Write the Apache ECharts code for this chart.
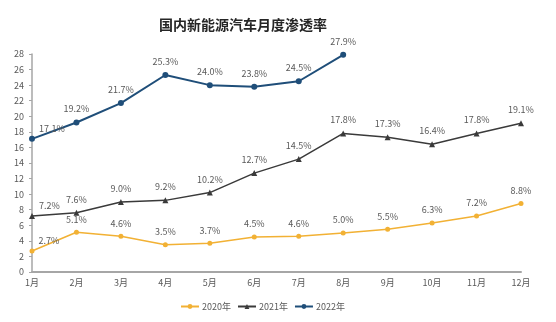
<!DOCTYPE html>
<html><head><meta charset="utf-8">
<script src="https://cdn.jsdelivr.net/npm/echarts@6/dist/echarts.min.js"></script>
<style>html,body{margin:0;padding:0;background:#fff}#c{width:556px;height:322px}</style>
</head><body><div id="c"></div>
<script>
var categories = ['1月','2月','3月','4月','5月','6月','7月','8月','9月','10月','11月','12月'];
var s2020 = [2.7,5.1,4.6,3.5,3.7,4.5,4.6,5.0,5.5,6.3,7.2,8.8];
var s2021 = [7.2,7.6,9.0,9.2,10.2,12.7,14.5,17.8,17.3,16.4,17.8,19.1];
var s2022 = [17.1,19.2,21.7,25.3,24.0,23.8,24.5,27.9];
var names = ['2020年','2021年','2022年'];
var colors = ['#F2B134','#3A3A3A','#1F4E79'];
var symbols = ['circle','triangle','circle'];
var font = '"Noto Sans CJK SC", "Liberation Sans", sans-serif';
function lbl(params){ return params.value.toFixed(1) + '%'; }
function mk(i, data){
  return {
    name: names[i], type:'line', data: data.map(function(v,j){
      var o = {value:v};
      if (j===0) o.label = {position:'right', offset:[-2,-10]};
      return o;
    }),
    symbol: symbols[i], symbolSize: i===1?6:(i===2?6:5),
    lineStyle:{color:colors[i], width: i===2?2:1.5},
    itemStyle:{color:colors[i]},
    label:{show:true, position:'top', distance:6, formatter:lbl, color:'#595959', fontSize:9, fontFamily:font},
    z: 3-i
  };
}
var chart = echarts.init(document.getElementById('c'));
chart.setOption({
  animation:false,
  title:{text:'国内新能源汽车月度渗透率', left:238, top:13, textAlign:'center',
    textStyle:{fontSize:14, fontWeight:'bold', color:'#262626', fontFamily:font}},
  grid:{left:32, right:35, top:54, bottom:50, containLabel:false},
  legend:{top:297, left:175, itemWidth:18, itemHeight:6, itemGap:6,
    textStyle:{fontSize:9, color:'#595959', fontFamily:font, padding:[0,0,0,-2]}, data:names},
  xAxis:{type:'category', data:categories, boundaryGap:false,
    axisLine:{lineStyle:{color:'#A6A6A6', width:2}}, axisTick:{show:false},
    axisLabel:{color:'#595959', fontSize:9, fontFamily:font, margin:6}},
  yAxis:{type:'value', min:0, max:28, interval:2,
    axisLine:{show:true, lineStyle:{color:'#A6A6A6', width:1.5}},
    axisTick:{show:true, length:3, lineStyle:{color:'#A6A6A6'}},
    splitLine:{show:false},
    axisLabel:{color:'#595959', fontSize:9, fontFamily:font, margin:8}},
  series:[mk(0,s2020), mk(1,s2021), mk(2,s2022)]
});
</script></body></html>
